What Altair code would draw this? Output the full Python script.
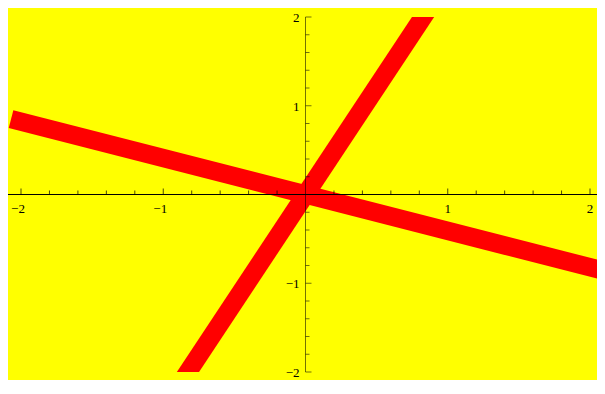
import altair as alt
import pandas as pd

# Line data (two red lines)
steep_x = [-0.9, 0.9]
steep_y = [-2.178, 2.178]
shallow_x = [-2.07, 2.1]
shallow_y = [0.849, -0.861]

# Axis ticks and labels
x_major = [-2, -1, 1, 2]
x_major_labels = ["−2", "−1", "1", "2"]
x_minor = [-1.8, -1.6, -1.4, -1.2, -0.8, -0.6, -0.4, -0.2,
           0.2, 0.4, 0.6, 0.8, 1.2, 1.4, 1.6, 1.8]
y_major = [-2, -1, 1, 2]
y_major_labels = ["−2", "−1", "1", "2"]
y_minor = [-1.8, -1.6, -1.4, -1.2, -0.8, -0.6, -0.4, -0.2,
           0.2, 0.4, 0.6, 0.8, 1.2, 1.4, 1.6, 1.8]

XDOM = [-2.0914, 2.0492]
YDOM = [-2.0, 2.0]

xs = alt.Scale(domain=XDOM, nice=False, zero=False)
ys = alt.Scale(domain=YDOM, nice=False, zero=False)

lines_df = pd.DataFrame({
    "x": steep_x + shallow_x,
    "y": steep_y + shallow_y,
    "s": ["a", "a", "b", "b"],
})

lines = alt.Chart(lines_df).mark_line(color="#ff0000", strokeWidth=18.5, clip=True, strokeCap="butt").encode(
    x=alt.X("x:Q", scale=xs, axis=None),
    y=alt.Y("y:Q", scale=ys, axis=None),
    detail="s:N",
)

zero_df = pd.DataFrame({"v": [0]})
xaxis_line = alt.Chart(zero_df).mark_rule(color="black", strokeWidth=1).encode(
    y=alt.Y("v:Q", scale=ys, axis=None)
)
yaxis_line = alt.Chart(zero_df).mark_rule(color="black", strokeWidth=1, opacity=0.55).encode(
    x=alt.X("v:Q", scale=xs, axis=None)
)

xmaj_df = pd.DataFrame({"x": x_major, "y": [0] * len(x_major), "lab": x_major_labels,
                        "neg": [v < 0 for v in x_major]})
xmin_df = pd.DataFrame({"x": x_minor, "y": [0] * len(x_minor)})
ymaj_df = pd.DataFrame({"y": y_major, "x": [0] * len(y_major), "lab": y_major_labels})
ymin_df = pd.DataFrame({"y": y_minor, "x": [0] * len(y_minor)})

xmaj_ticks = alt.Chart(xmaj_df).mark_tick(orient="vertical", size=6, thickness=1, yOffset=-3, color="black").encode(
    x=alt.X("x:Q", scale=xs, axis=None), y=alt.Y("y:Q", scale=ys, axis=None))
xmin_ticks = alt.Chart(xmin_df).mark_tick(orient="vertical", size=4, thickness=1, yOffset=-2, color="black").encode(
    x=alt.X("x:Q", scale=xs, axis=None), y=alt.Y("y:Q", scale=ys, axis=None))
ymaj_ticks = alt.Chart(ymaj_df).mark_tick(orient="horizontal", size=6, thickness=1, xOffset=3, color="black", opacity=0.55).encode(
    x=alt.X("x:Q", scale=xs, axis=None), y=alt.Y("y:Q", scale=ys, axis=None))
ymin_ticks = alt.Chart(ymin_df).mark_tick(orient="horizontal", size=4, thickness=1, xOffset=2, color="black", opacity=0.55).encode(
    x=alt.X("x:Q", scale=xs, axis=None), y=alt.Y("y:Q", scale=ys, axis=None))

font = "Liberation Serif"
xlab_pos = alt.Chart(xmaj_df[~xmaj_df["neg"]]).mark_text(font=font, fontSize=13, align="center", baseline="alphabetic", dy=18, color="black").encode(
    x=alt.X("x:Q", scale=xs, axis=None), y=alt.Y("y:Q", scale=ys, axis=None), text="lab:N")
xlab_neg = alt.Chart(xmaj_df[xmaj_df["neg"]]).mark_text(font=font, fontSize=13, align="center", baseline="alphabetic", dy=18, dx=-3, color="black").encode(
    x=alt.X("x:Q", scale=xs, axis=None), y=alt.Y("y:Q", scale=ys, axis=None), text="lab:N")
ylab = alt.Chart(ymaj_df).mark_text(font=font, fontSize=13, align="right", baseline="middle", dx=-6, dy=1, color="black").encode(
    x=alt.X("x:Q", scale=xs, axis=None), y=alt.Y("y:Q", scale=ys, axis=None), text="lab:N")

chart = alt.layer(
    lines, xaxis_line, yaxis_line, xmaj_ticks, xmin_ticks, ymaj_ticks, ymin_ticks,
    xlab_pos, xlab_neg, ylab
).properties(
    width=589, height=355,
    padding={"left": 0, "right": 0, "top": 9, "bottom": 8},
    autosize=alt.AutoSizeParams(type="none"),
    background="#ffff00",
).configure_view(fill="#ffff00", stroke=None)

chart.save("out.html", embed_options={"renderer": "svg", "actions": False})
